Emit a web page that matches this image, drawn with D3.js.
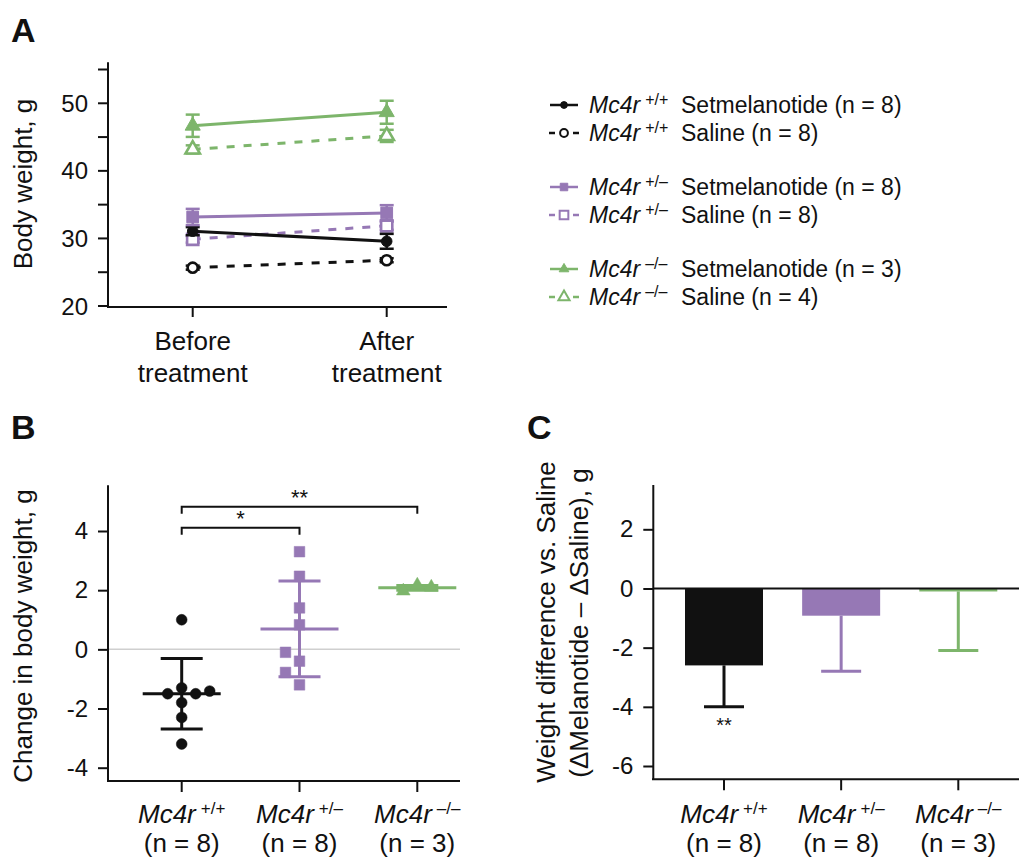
<!DOCTYPE html>
<html><head><meta charset="utf-8">
<script src="https://cdn.jsdelivr.net/npm/d3@7"></script>
<style>
body{margin:0;background:#fff}
svg{display:block}
text{font-family:"Liberation Sans",Arial,Helvetica,sans-serif;fill:#111}
</style>
</head><body>
<svg id="chart" width="1019" height="862"></svg>
<script>
// ---------- DATA ----------
const timepoints = ["Before treatment", "After treatment"];
const genotypes = ["+/+", "+/–", "–/–"];
const setN = [8, 8, 3];
const salN = [8, 8, 4];
// Panel A: body weight (g), mean and SEM
const setBefore = [31.0, 33.1, 46.6];
const setBeforeSem = [0.6, 1.2, 1.65];
const setAfter = [29.5, 33.7, 48.6];
const setAfterSem = [1.1, 1.15, 1.7];
const salBefore = [25.6, 29.8, 43.1];
const salBeforeSem = [0.3, 0.5, 0.6];
const salAfter = [26.7, 31.8, 45.1];
const salAfterSem = [0.3, 0.6, 0.9];
const ticksA = [20, 25, 30, 35, 40, 45, 50, 55];
const labelTicksA = [20, 30, 40, 50];
// Panel B: change in body weight (g), individual animals
const changeWT = [1.0, -1.3, -1.5, -1.5, -1.41, -1.8, -2.3, -3.2];
const changeHet = [3.3, 2.47, 1.4, 0.83, -0.4, -0.1, -0.78, -1.2];
const changeKO = [2.17, 1.97, 2.1];
const changeMean = [-1.5, 0.69, 2.08];
const changeSD = [1.19, 1.62, 0.08];
const ticksB = [-4, -2, 0, 2, 4];
const sigB = [{from: 0, to: 2, label: "**"}, {from: 0, to: 1, label: "*"}];
// Panel C: weight difference vs saline
const diffMean = [-2.6, -0.92, -0.1];
const diffErr = [1.4, 1.88, 2.0];
const diffSig = ["**", "", ""];
const ticksC = [-6, -4, -2, 0, 2];

// ---------- STYLE ----------
const colors = ["#111111", "#9678b5", "#7db56b"];
const shapes = [d3.symbolCircle, d3.symbolSquare, d3.symbolTriangle];
const shapeSize = [80, 125, 90];
const svg = d3.select("#chart");
const fmt = d => d < 0 ? "-" + Math.abs(d) : String(d);

function mc4r(textSel, g, supSize, supDy) {
  textSel.append("tspan").attr("font-style", "italic").text("Mc4r");
  textSel.append("tspan").attr("font-size", supSize).attr("dy", supDy).attr("dx", 5).text(g);
}
function styleAxis(g, size) {
  g.select(".domain").remove();
  g.selectAll(".tick line").attr("stroke", "#111").attr("stroke-width", 2);
  g.selectAll(".tick text").attr("font-size", size).attr("fill", "#111")
   .attr("font-family", '"Liberation Sans",Arial,sans-serif');
}
function vline(x, y1, y2, color, w) {
  svg.append("line").attr("x1", x).attr("x2", x).attr("y1", y1).attr("y2", y2)
    .attr("stroke", color).attr("stroke-width", w);
}
function hline(x1, x2, y, color, w) {
  svg.append("line").attr("x1", x1).attr("x2", x2).attr("y1", y).attr("y2", y)
    .attr("stroke", color).attr("stroke-width", w);
}

// panel letters
[["A", 11, 42], ["B", 11, 439], ["C", 527, 439]].forEach(([t, x, y]) =>
  svg.append("text").attr("x", x).attr("y", y).attr("font-size", 34).attr("font-weight", "bold").text(t));

// ---------- PANEL A ----------
const yA = d3.scaleLinear().domain([20, 55]).range([305.5, 69]);
const xA = d3.scalePoint().domain(timepoints).range([192.7, 386.7]);
const axA = svg.append("g").attr("transform", "translate(108,0)")
  .call(d3.axisLeft(yA).tickValues(ticksA).tickSize(10).tickPadding(10)
    .tickFormat(d => labelTicksA.includes(d) ? d : ""));
styleAxis(axA, 24);
axA.selectAll(".tick text").attr("dy", "0.36em");
vline(108, yA(56), 307, "#111", 2);
hline(107, 447, 307, "#111", 2);
timepoints.forEach(t => {
  vline(xA(t), 307, 317, "#111", 2);
  const words = t.split(" ");
  words.forEach((w, i) => svg.append("text").attr("x", xA(t)).attr("y", 350 + i * 32)
    .attr("text-anchor", "middle").attr("font-size", 26).text(w));
});
svg.append("text").attr("transform", "translate(32,184) rotate(-90)")
  .attr("text-anchor", "middle").attr("font-size", 26).text("Body weight, g");

const lineA = d3.line().x(d => xA(d.t)).y(d => yA(d.v));
const seriesA = [];
genotypes.forEach((g, i) => {
  seriesA.push({g: i, filled: false, dash: "8,9",
    pts: [{t: timepoints[0], v: salBefore[i], e: salBeforeSem[i]}, {t: timepoints[1], v: salAfter[i], e: salAfterSem[i]}]});
});
genotypes.forEach((g, i) => {
  seriesA.push({g: i, filled: true, dash: null,
    pts: [{t: timepoints[0], v: setBefore[i], e: setBeforeSem[i]}, {t: timepoints[1], v: setAfter[i], e: setAfterSem[i]}]});
});
seriesA.forEach(s => {
  const c = colors[s.g];
  svg.append("path").attr("d", lineA(s.pts)).attr("fill", "none").attr("stroke", c)
    .attr("stroke-width", 3).attr("stroke-dasharray", s.dash);
  s.pts.forEach(p => {
    const x = xA(p.t);
    vline(x, yA(p.v + p.e), yA(p.v - p.e), c, 2.5);
    hline(x - 7, x + 7, yA(p.v + p.e), c, 2.5);
    hline(x - 7, x + 7, yA(p.v - p.e), c, 2.5);
  });
  s.pts.forEach(p => {
    svg.append("path").attr("transform", `translate(${xA(p.t)},${yA(p.v)})`)
      .attr("d", d3.symbol().type(shapes[s.g]).size(s.filled ? shapeSize[s.g] * 1.1 : shapeSize[s.g])())
      .attr("fill", s.filled ? c : "#fff").attr("stroke", c).attr("stroke-width", s.filled ? 1 : 2.6);
  });
});

// legend
genotypes.forEach((g, i) => {
  [["Setmelanotide", setN[i], true], ["Saline", salN[i], false]].forEach(([name, n, filled], j) => {
    const cy = 105 + i * 82 + j * 28;
    const c = colors[i];
    if (filled) hline(550, 578, cy, c, 2.5);
    else { hline(549, 555, cy, c, 2.5); hline(573, 579, cy, c, 2.5); }
    svg.append("path").attr("transform", `translate(564,${cy})`)
      .attr("d", d3.symbol().type(shapes[i]).size(filled ? shapeSize[i] * 0.45 : shapeSize[i] * 0.6)())
      .attr("fill", filled ? c : "#fff").attr("stroke", c).attr("stroke-width", filled ? 1 : 2);
    const t = svg.append("text").attr("x", 589).attr("y", cy + 8).attr("font-size", 23);
    mc4r(t, g, 16, -8);
    svg.append("text").attr("x", 681).attr("y", cy + 8).attr("font-size", 23)
      .text(`${name} (n = ${n})`);
  });
});

// ---------- PANEL B ----------
const yB = d3.scaleLinear().domain([-4, 4]).range([767.7, 531]);
const xB = d3.scalePoint().domain(genotypes).range([181.7, 417.3]);
const axB = svg.append("g").attr("transform", "translate(108,0)")
  .call(d3.axisLeft(yB).tickValues(ticksB).tickSize(10).tickPadding(10).tickFormat(fmt));
styleAxis(axB, 24);
vline(108, yB(5.55), 781, "#111", 2);
hline(107, 460, 781, "#111", 2);
hline(109, 460, yB(0), "#cfcfcf", 1.5);
svg.append("text").attr("transform", "translate(32,636) rotate(-90)")
  .attr("text-anchor", "middle").attr("font-size", 26).text("Change in body weight, g");

function xLabels(xs, yBase) {
  genotypes.forEach((g, i) => {
    vline(xs(g), yBase, yBase + 11, "#111", 2);
    const t = svg.append("text").attr("x", xs(g)).attr("y", 823).attr("text-anchor", "middle").attr("font-size", 26);
    mc4r(t, g, 17, -9);
    svg.append("text").attr("x", xs(g)).attr("y", 852).attr("text-anchor", "middle")
      .attr("font-size", 26).text(`(n = ${setN[i]})`);
  });
}
xLabels(xB, 781);

// mean and SD
genotypes.forEach((g, i) => {
  const x = xB(g), c = colors[i];
  vline(x, yB(changeMean[i] + changeSD[i]), yB(changeMean[i] - changeSD[i]), c, 3);
  hline(x - 21, x + 21, yB(changeMean[i] + changeSD[i]), c, 3);
  hline(x - 21, x + 21, yB(changeMean[i] - changeSD[i]), c, 3);
  hline(x - 39, x + 39, yB(changeMean[i]), c, 3);
});
// points with a simple dodge (swarm) layout
[changeWT, changeHet, changeKO].forEach((vals, i) => {
  const x0 = xB(genotypes[i]), c = colors[i];
  const placed = [];
  const step = 14, minD = 11.5;
  const cands = [0, -step, step, 2 * step, -2 * step];
  vals.forEach(v => {
    const y = yB(v);
    let dx = cands.find(o => placed.every(p => Math.hypot(p.dx - o, p.y - y) >= minD));
    if (dx === undefined) dx = 0;
    placed.push({dx, y});
    svg.append("path").attr("transform", `translate(${x0 + dx},${y})`)
      .attr("d", d3.symbol().type(shapes[i]).size(shapeSize[i] * (i === 0 ? 1.15 : 0.9))())
      .attr("fill", c).attr("stroke", c).attr("stroke-width", 0.5);
  });
});
// significance brackets
sigB.forEach((s, k) => {
  const yb = k === 0 ? 506.7 : 527.7;
  const x1 = xB(genotypes[s.from]), x2 = xB(genotypes[s.to]);
  svg.append("path").attr("d", `M${x1},${yb + 7}V${yb}H${x2}V${yb + 7}`)
    .attr("fill", "none").attr("stroke", "#111").attr("stroke-width", 2);
  svg.append("text").attr("x", (x1 + x2) / 2).attr("y", yb - 2).attr("text-anchor", "middle")
    .attr("font-size", 22).text(s.label);
});

// ---------- PANEL C ----------
const yC = d3.scaleLinear().domain([-6, 2]).range([766, 529.3]);
const xC = d3.scalePoint().domain(genotypes).range([724, 958.3]);
const axC = svg.append("g").attr("transform", "translate(653.3,0)")
  .call(d3.axisLeft(yC).tickValues(ticksC).tickSize(10).tickPadding(10).tickFormat(fmt));
styleAxis(axC, 24);
vline(653.3, yC(3.5), 780, "#111", 2);
hline(652, 1019, 779.3, "#111", 2);
svg.append("text").attr("transform", "translate(555,622) rotate(-90)")
  .attr("text-anchor", "middle").attr("font-size", 26).text("Weight difference vs. Saline");
svg.append("text").attr("transform", "translate(588,623) rotate(-90)")
  .attr("text-anchor", "middle").attr("font-size", 26).text("(ΔMelanotide – ΔSaline), g");
xLabels(xC, 779.3);

const barW = 78;
genotypes.forEach((g, i) => {
  const x = xC(g), c = colors[i];
  const lo = diffMean[i] - diffErr[i];
  vline(x, yC(diffMean[i]), yC(lo), c, 3);
  hline(x - 20, x + 20, yC(lo), c, 3);
  svg.append("rect").attr("x", x - barW / 2).attr("width", barW)
    .attr("y", yC(0)).attr("height", Math.max(3, yC(diffMean[i]) - yC(0))).attr("fill", c);
  if (diffSig[i]) svg.append("text").attr("x", x).attr("y", yC(lo) + 25)
    .attr("text-anchor", "middle").attr("font-size", 20).text(diffSig[i]);
});
hline(653.3, 1019, yC(0), "#111", 2);
</script>
</body></html>
